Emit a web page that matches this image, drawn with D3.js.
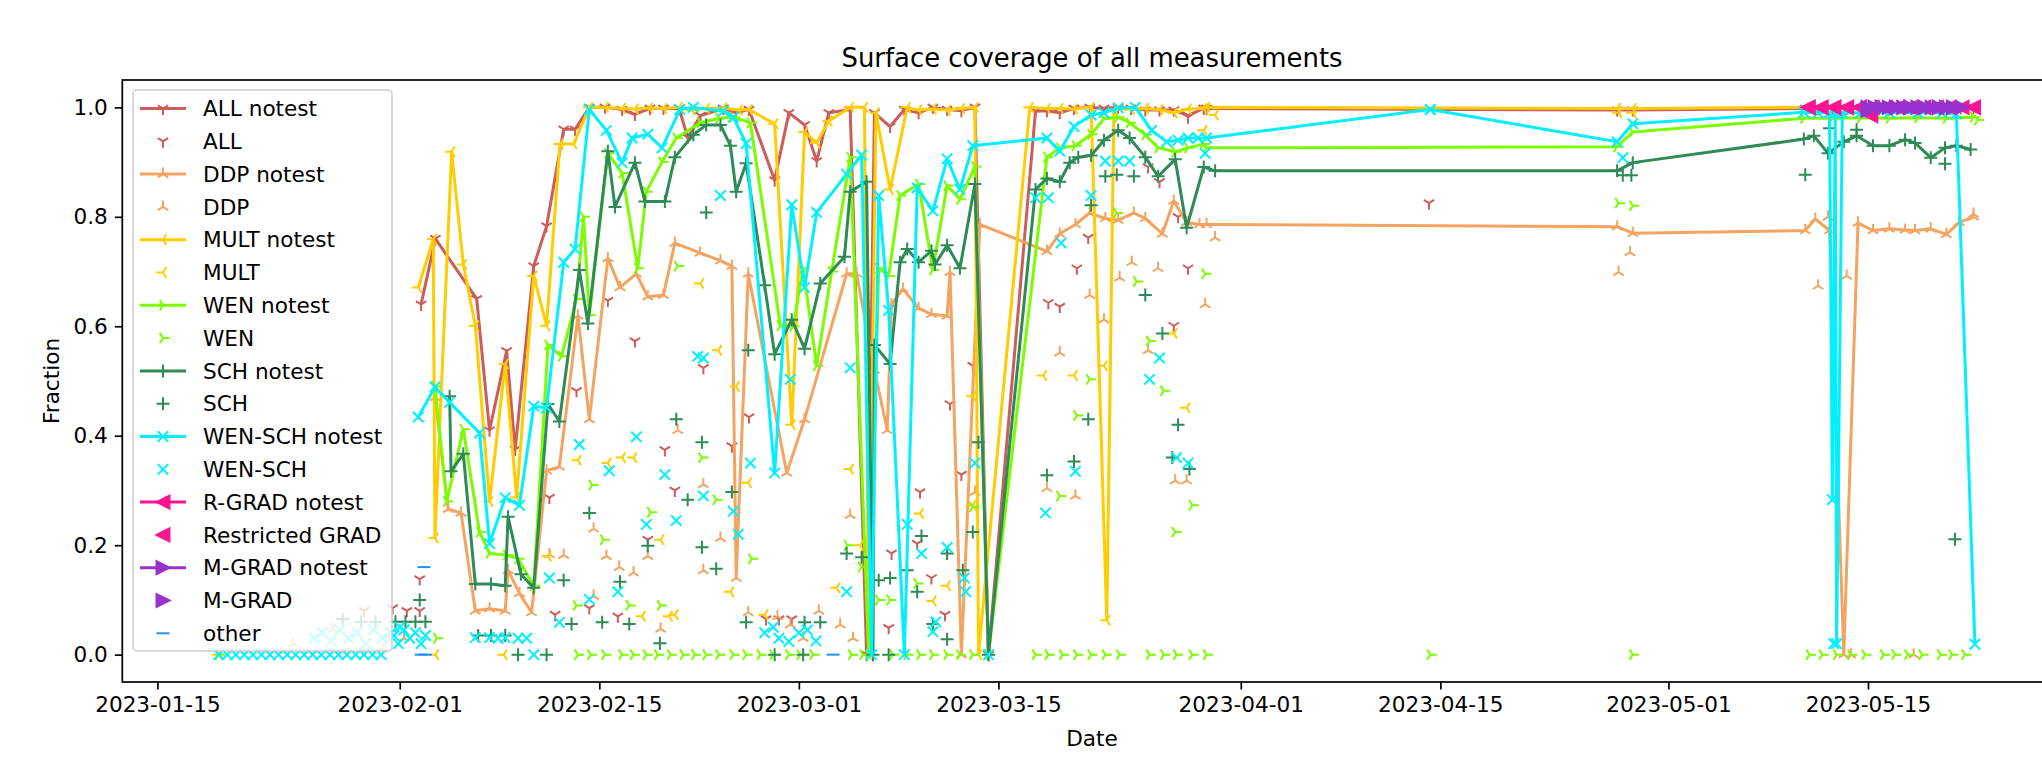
<!DOCTYPE html>
<html><head><meta charset="utf-8">
<script src="https://cdn.jsdelivr.net/npm/d3@7"></script>
<style>
body{margin:0;background:#fff}
text{font-family:"DejaVu Sans",sans-serif;fill:#000}
</style>
</head><body>
<svg id="chart" width="2042" height="764"></svg>
<script>
// ---------------- data (days since startDate, fraction) ----------------
const startDate = "2023-01-15";
const xTickLabels = ["2023-01-15","2023-02-01","2023-02-15","2023-03-01","2023-03-15","2023-04-01","2023-04-15","2023-05-01","2023-05-15"];
const yTickValues = [0.0,0.2,0.4,0.6,0.8,1.0];
const titleText = "Surface coverage of all measurements";
const xLabel = "Date";
const yLabel = "Fraction";

const allNotest = [[18.5,0.64],[19.5,0.76],[22.4,0.65],[23.3,0.41],[24.5,0.555],[25.1,0.375],[26.4,0.71],[27.3,0.783],[28.5,0.96],[29.3,0.96],[30.3,1.0],[31.4,1.0],[32.6,0.996],[33.5,0.987],[34.55,0.998],[35.5,0.998],[36.6,0.998],[37.2,0.945],[38.1,0.985],[39.7,0.998],[40.6,0.99],[41.5,0.996],[43.3,0.867],[44.3,0.99],[45.4,0.968],[46.25,0.902],[47.1,0.99],[48.6,0.996],[49.75,0.0],[50.3,0.99],[51.4,0.965],[52.4,0.996],[53.4,0.99],[54.4,1.0],[55.4,0.996],[56.4,0.994],[57.35,1.0],[58.3,0.0],[61.6,0.993],[62.4,0.994],[63.3,0.99],[64.3,0.998],[65.4,1.0],[66.4,0.998],[67.4,1.0],[68.3,0.998],[69.3,0.995],[70.3,0.995],[71.3,0.995],[72.3,0.985],[73.4,0.998],[73.6,0.998],[102.4,0.995],[103.5,0.995],[115.6,0.998],[116.5,0.998],[117.5,0.999],[118.5,0.998],[119.5,0.999],[120.5,0.999],[121.5,0.999],[122.5,0.999],[123.5,0.999],[124.5,0.999],[125.5,0.999],[126.5,0.999],[127.4,0.999]];
const allPts = [[14.5,0.08],[16.5,0.085],[17.5,0.08],[18.4,0.08],[18.4,0.138],[27.5,0.287],[27.9,0.073],[29.4,0.482],[30.3,0.085],[31.6,0.647],[32.3,0.07],[33.5,0.573],[34.4,0.21],[35.6,0.374],[36.3,0.3],[38.3,0.524],[40.3,0.381],[41.5,0.434],[42.7,0.065],[43.6,0.065],[44.5,0.065],[51.3,0.049],[51.5,0.185],[53.3,0.203],[53.5,0.297],[54.3,0.14],[55.25,0.073],[55.6,0.458],[56.4,0.329],[57.2,0.528],[62.5,0.643],[63.3,0.636],[64.5,0.706],[65.3,0.762],[69.5,0.891],[70.3,0.864],[71.3,0.601],[71.6,0.8],[72.3,0.706],[72.3,0.982],[89.2,0.825]];

const ddpNotest = [[19.47,0.47],[20.4,0.266],[21.3,0.259],[22.3,0.08],[23.3,0.084],[24.4,0.08],[24.6,0.154],[25.4,0.112],[26.25,0.077],[27.3,0.336],[28.2,0.343],[29.5,0.619],[30.3,0.43],[31.6,0.724],[32.45,0.671],[33.6,0.696],[34.4,0.654],[35.5,0.657],[36.3,0.752],[38.06,0.734],[39.5,0.72],[40.3,0.71],[40.6,0.14],[41.45,0.696],[44.15,0.332],[45.4,0.43],[48.35,0.696],[49.05,0.696],[50.3,0.52],[51.2,0.41],[51.5,0.64],[52.3,0.668],[53.4,0.633],[54.3,0.622],[55.4,0.619],[55.6,0.699],[56.4,0.0],[57.7,0.786],[62.4,0.737],[63.3,0.769],[64.4,0.786],[65.4,0.807],[66.5,0.797],[67.4,0.794],[68.5,0.807],[69.3,0.797],[70.5,0.769],[71.3,0.829],[72.2,0.79],[73.1,0.786],[73.6,0.786],[102.4,0.782],[103.5,0.77],[115.6,0.775],[116.3,0.796],[117.3,0.775],[118.3,0.0],[119.3,0.789],[120.35,0.775],[121.5,0.778],[122.6,0.776],[123.3,0.775],[124.4,0.778],[125.5,0.768],[126.4,0.79],[127.4,0.8]];
const ddpPts = [[9.5,0.02],[12.3,0.047],[15.8,0.012],[17.3,0.03],[27.5,0.183],[28.5,0.182],[30.6,0.23],[30.6,0.107],[31.5,0.18],[32.4,0.16],[33.4,0.15],[34.4,0.18],[35.3,0.047],[36.5,0.41],[38.3,0.311],[38.3,0.154],[39.5,0.213],[41.45,0.077],[43.5,0.07],[44.4,0.055],[45.3,0.03],[46.4,0.08],[47.9,0.055],[48.6,0.255],[48.8,0.03],[57.35,0.297],[62.4,0.304],[63.3,0.552],[64.4,0.29],[65.4,0.657],[66.4,0.612],[67.5,0.689],[68.35,0.717],[69.5,0.556],[70.2,0.706],[71.4,0.318],[72.2,0.318],[73.5,0.64],[74.2,0.762],[102.5,0.699],[103.3,0.735],[116.5,0.674],[117.2,0.8],[118.5,0.692],[118.8,0.0],[123.2,0.0],[127.4,0.805]];

const multNotest = [[18.3,0.671],[19.35,0.759],[19.47,0.213],[20.64,0.919],[21.46,0.713],[22.3,0.601],[23.3,0.28],[24.4,0.531],[25.2,0.287],[26.4,0.692],[27.3,0.601],[28.24,0.933],[29.2,0.933],[30.3,1.0],[31.4,1.0],[32.6,0.998],[33.5,0.997],[34.5,0.999],[35.5,0.998],[36.6,1.0],[37.5,0.995],[38.5,0.998],[39.7,0.999],[40.8,0.995],[41.5,0.996],[43.3,0.97],[44.5,0.42],[45.4,0.955],[46.25,0.935],[47.1,0.975],[48.6,1.0],[49.6,1.0],[49.9,0.0],[50.4,0.99],[51.4,0.85],[52.6,1.0],[53.4,0.995],[54.4,0.997],[55.4,0.995],[56.4,0.998],[57.35,1.0],[57.6,0.0],[61.2,1.0],[62.4,0.998],[63.3,0.998],[64.3,0.997],[65.5,1.0],[66.6,0.063],[67.1,0.996],[68.3,0.997],[69.3,0.998],[70.3,0.996],[71.3,0.99],[72.3,0.997],[73.4,0.998],[73.6,1.0],[102.4,0.998],[103.5,0.998],[115.6,1.0],[127.4,1.0]];
const multPts = [[4.3,0.0],[19.5,0.0],[24.3,0.0],[27.4,0.18],[29.5,0.355],[31.6,0.35],[32.6,0.36],[33.4,0.36],[34.0,0.07],[35.3,0.21],[35.9,0.07],[36.3,0.073],[38.1,0.678],[39.35,0.556],[40.2,0.115],[40.6,0.49],[41.45,0.314],[42.6,0.073],[47.65,0.122],[48.6,0.339],[49.3,0.2],[53.5,0.258],[54.4,0.098],[55.4,0.126],[57.2,0.273],[57.2,0.472],[62.15,0.51],[64.3,0.51],[66.4,0.528],[71.3,0.587],[72.2,0.451],[73.4,0.958],[74.2,0.986],[102.5,0.99],[103.5,0.99]];

const wenNotest = [[19.47,0.49],[20.3,0.28],[21.46,0.412],[22.6,0.224],[23.3,0.185],[24.5,0.182],[25.3,0.175],[26.4,0.126],[27.4,0.566],[28.35,0.545],[29.4,0.65],[29.9,0.8],[30.3,0.62],[31.6,0.916],[32.6,0.88],[33.7,0.706],[34.3,0.846],[35.4,0.9],[36.4,0.944],[38.1,0.972],[39.4,0.98],[40.4,0.982],[41.6,0.972],[43.7,0.601],[44.6,0.6],[45.3,0.706],[46.25,0.528],[47.3,0.7],[48.6,0.909],[49.9,0.0],[50.6,0.706],[51.3,0.692],[52.1,0.839],[53.4,0.86],[54.4,0.703],[55.4,0.857],[56.3,0.832],[57.35,0.892],[58.3,0.0],[62.4,0.909],[63.3,0.926],[64.4,0.93],[65.5,0.951],[66.4,0.979],[67.4,0.982],[68.2,0.972],[69.3,0.95],[70.2,0.926],[71.4,0.919],[72.3,0.926],[73.4,0.933],[73.6,0.926],[102.4,0.928],[103.5,0.955],[115.5,0.98],[117.5,0.98],[119.5,0.981],[121.5,0.98],[123.5,0.981],[125.5,0.98],[127.4,0.982]];
const wenPts = [[4.3,0.0],[19.6,0.03],[29.5,0.0],[30.4,0.0],[31.4,0.0],[32.6,0.0],[33.4,0.0],[34.3,0.0],[35.1,0.0],[36.0,0.0],[36.9,0.0],[37.7,0.0],[38.5,0.0],[39.4,0.0],[40.4,0.0],[41.3,0.0],[42.3,0.0],[43.2,0.0],[44.3,0.0],[45.1,0.0],[46.0,0.0],[48.7,0.0],[49.5,0.0],[51.6,0.0],[52.6,0.0],[53.5,0.0],[54.4,0.0],[55.4,0.0],[56.3,0.0],[57.2,0.0],[61.6,0.0],[62.5,0.0],[63.5,0.0],[64.5,0.0],[65.5,0.0],[66.5,0.0],[67.5,0.0],[69.6,0.0],[70.6,0.0],[71.5,0.0],[72.6,0.0],[73.6,0.0],[89.3,0.0],[103.5,0.0],[115.9,0.0],[116.8,0.0],[117.8,0.0],[118.8,0.0],[119.8,0.0],[121.1,0.0],[121.9,0.0],[122.8,0.0],[123.8,0.0],[125.1,0.0],[125.9,0.0],[126.8,0.0],[29.4,0.09],[30.5,0.31],[31.3,0.21],[33.1,0.09],[34.6,0.26],[35.3,0.09],[36.5,0.71],[38.2,0.36],[39.2,0.283],[41.7,0.175],[48.4,0.2],[49.4,0.16],[50.6,0.1],[51.4,0.1],[53.3,0.13],[57.2,0.27],[63.3,0.29],[64.5,0.437],[65.4,0.503],[67.3,0.807],[68.7,0.682],[69.6,0.573],[70.6,0.482],[71.4,0.224],[72.6,0.273],[73.5,0.696],[102.5,0.825],[103.5,0.82],[127.7,0.977]];

const schNotest = [[20.5,0.472],[20.6,0.335],[21.46,0.367],[22.3,0.129],[23.4,0.129],[24.4,0.126],[24.6,0.252],[25.5,0.147],[26.4,0.122],[27.4,0.458],[28.2,0.426],[29.6,0.703],[30.2,0.605],[31.6,0.92],[32.1,0.818],[33.5,0.899],[34.2,0.828],[35.6,0.828],[36.3,0.909],[37.6,0.95],[38.5,0.968],[39.5,0.968],[40.2,0.93],[40.6,0.846],[41.3,0.898],[42.6,0.675],[43.3,0.549],[44.5,0.612],[45.4,0.559],[46.5,0.678],[48.2,0.727],[48.6,0.846],[49.75,0.864],[50.2,0.0],[50.3,0.566],[51.4,0.531],[52.1,0.717],[52.6,0.741],[53.4,0.717],[54.3,0.738],[54.55,0.713],[55.4,0.748],[56.3,0.706],[57.35,0.86],[58.3,0.0],[61.6,0.85],[62.4,0.87],[63.3,0.864],[64.0,0.899],[64.6,0.909],[65.5,0.912],[66.4,0.94],[67.4,0.958],[68.2,0.944],[69.3,0.909],[70.2,0.874],[71.4,0.905],[72.2,0.78],[73.4,0.891],[74.2,0.884],[102.4,0.884],[103.5,0.899],[115.5,0.942],[116.2,0.948],[117.2,0.916],[118.3,0.937],[119.2,0.948],[120.35,0.93],[121.5,0.93],[122.6,0.941],[123.3,0.935],[124.4,0.908],[125.4,0.926],[126.2,0.93],[127.2,0.923]];
const schPts = [[13.0,0.065],[14.3,0.06],[15.3,0.06],[16.7,0.06],[17.4,0.06],[18.1,0.06],[18.8,0.06],[18.4,0.1],[22.5,0.035],[23.4,0.035],[24.4,0.035],[25.3,0.0],[27.3,0.0],[28.5,0.136],[29.05,0.056],[30.3,0.259],[31.2,0.059],[32.45,0.133],[33.1,0.056],[34.4,0.199],[35.25,0.021],[36.4,0.43],[37.2,0.283],[38.2,0.388],[38.2,0.196],[38.5,0.808],[39.2,0.157],[40.3,0.297],[41.45,0.556],[41.3,0.059],[43.3,0.0],[45.3,0.0],[45.4,0.059],[46.5,0.059],[48.35,0.185],[49.4,0.178],[50.6,0.136],[51.3,0.0],[51.4,0.14],[52.6,0.154],[53.3,0.115],[53.6,0.217],[54.4,0.056],[55.4,0.028],[55.4,0.185],[56.5,0.154],[57.2,0.224],[57.6,0.388],[62.4,0.328],[64.3,0.353],[65.3,0.43],[65.5,0.821],[66.5,0.874],[67.3,0.877],[68.5,0.874],[69.3,0.657],[70.5,0.587],[71.2,0.36],[71.6,0.42],[72.4,0.339],[102.8,0.876],[103.4,0.876],[115.6,0.877],[117.3,0.962],[119.2,0.959],[125.4,0.897],[126.1,0.211]];

const wenschNotest = [[18.3,0.434],[19.47,0.489],[20.5,0.461],[22.6,0.405],[23.3,0.203],[24.4,0.287],[25.4,0.273],[26.4,0.454],[27.3,0.451],[28.5,0.717],[29.3,0.741],[30.3,0.996],[31.5,0.958],[32.6,0.899],[33.3,0.944],[34.4,0.951],[35.4,0.926],[36.65,0.996],[37.6,1.0],[39.7,0.993],[40.4,0.982],[41.3,0.934],[43.3,0.332],[44.5,0.822],[45.4,0.671],[46.25,0.808],[48.35,0.878],[49.4,0.913],[50.1,0.0],[50.6,0.839],[51.3,0.629],[52.4,0.0],[53.3,0.853],[54.4,0.811],[55.4,0.906],[56.3,0.85],[57.2,0.93],[62.4,0.944],[63.3,0.92],[64.3,0.965],[65.5,0.986],[66.4,0.99],[67.4,0.999],[68.6,1.0],[69.75,0.958],[70.8,0.937],[71.6,0.94],[72.3,0.944],[73.0,0.944],[73.6,0.944],[89.3,0.996],[102.4,0.937],[103.5,0.97],[115.5,0.991],[116.5,0.99],[117.3,0.99],[117.5,0.283],[117.7,0.99],[117.8,0.02],[118.2,0.99],[119.5,0.99],[121.5,0.99],[123.5,0.99],[125.2,0.99],[126.2,0.988],[127.5,0.019]];
const wenschPts = [[4.3,0.0],[4.9,0.0],[5.5,0.0],[6.1,0.0],[6.7,0.0],[7.3,0.0],[7.9,0.0],[8.5,0.0],[9.1,0.0],[9.7,0.0],[10.3,0.0],[10.9,0.0],[11.5,0.0],[12.1,0.0],[12.7,0.0],[13.3,0.0],[13.9,0.0],[14.5,0.0],[15.1,0.0],[15.7,0.0],[11.0,0.03],[11.6,0.04],[12.2,0.025],[12.8,0.045],[13.4,0.03],[14.0,0.04],[14.6,0.02],[15.2,0.045],[15.8,0.03],[16.4,0.04],[16.6,0.035],[16.9,0.02],[17.0,0.05],[17.3,0.045],[17.7,0.03],[18.1,0.04],[18.5,0.02],[18.8,0.035],[22.3,0.031],[23.3,0.031],[23.9,0.03],[24.4,0.031],[25.3,0.03],[25.9,0.03],[26.4,0.0],[27.5,0.14],[28.2,0.059],[29.6,0.384],[30.3,0.101],[31.7,0.336],[32.3,0.115],[33.6,0.398],[34.3,0.238],[35.6,0.329],[36.4,0.245],[37.9,0.545],[38.3,0.542],[38.3,0.29],[39.5,0.839],[40.4,0.262],[40.75,0.22],[41.6,0.35],[42.6,0.04],[43.2,0.05],[43.6,0.03],[44.3,0.024],[44.4,0.503],[45.0,0.04],[45.6,0.045],[46.2,0.025],[48.35,0.115],[48.6,0.524],[52.6,0.238],[53.6,0.185],[54.4,0.042],[54.6,0.06],[55.4,0.196],[56.6,0.14],[56.7,0.115],[57.35,0.35],[58.3,0.0],[61.6,0.835],[62.3,0.259],[62.5,0.835],[63.4,0.752],[64.4,0.335],[65.5,0.839],[66.5,0.902],[67.4,0.902],[68.2,0.902],[69.6,0.503],[70.3,0.542],[71.5,0.36],[72.3,0.35],[73.5,0.916],[89.3,0.996],[102.8,0.908],[117.6,0.02]];

const rgradNotest = [[115.8,1.0],[116.7,1.0],[117.6,1.0],[118.5,1.0],[119.4,1.0],[120.3,1.0],[121.2,1.0],[122.1,1.0],[123.0,1.0],[123.9,1.0],[124.8,1.0],[125.7,1.0],[126.6,1.0],[127.4,1.0]];
const rgradPts = [[115.8,1.0],[116.7,1.0],[117.6,1.0],[118.5,1.0],[119.4,1.0],[120.2,0.985],[127.4,1.0]];
const mgradNotest = [[120.0,1.0],[120.5,1.0],[121.0,1.0],[121.5,1.0],[122.0,1.0],[122.5,1.0],[123.0,1.0],[123.5,1.0],[124.0,1.0],[124.5,1.0],[125.0,1.0],[125.5,1.0],[126.0,1.0],[126.6,1.0]];
const mgradPts = [[120.0,0.995],[121.0,1.0],[122.0,1.0],[123.0,1.0],[124.0,1.0],[125.0,1.0],[126.0,1.0]];
const otherPts = [[18.5,0.0],[18.8,0.0],[18.7,0.16],[47.4,0.0]];

// ---------------- styling ----------------
const C = {all:"#cd5c5c", ddp:"#f4a460", mult:"#ffcc00", wen:"#7cfc00", sch:"#2e8b57", wensch:"#00f0ff", rgrad:"#ff1493", mgrad:"#9932cc", other:"#1e90ff"};
const series = [
  {label:"ALL notest", data:allNotest, color:C.all, marker:"tri_down", line:true},
  {label:"ALL", data:allPts, color:C.all, marker:"tri_down", line:false},
  {label:"DDP notest", data:ddpNotest, color:C.ddp, marker:"tri_up", line:true},
  {label:"DDP", data:ddpPts, color:C.ddp, marker:"tri_up", line:false},
  {label:"MULT notest", data:multNotest, color:C.mult, marker:"tri_left", line:true},
  {label:"MULT", data:multPts, color:C.mult, marker:"tri_left", line:false},
  {label:"WEN notest", data:wenNotest, color:C.wen, marker:"tri_right", line:true},
  {label:"WEN", data:wenPts, color:C.wen, marker:"tri_right", line:false},
  {label:"SCH notest", data:schNotest, color:C.sch, marker:"plus", line:true},
  {label:"SCH", data:schPts, color:C.sch, marker:"plus", line:false},
  {label:"WEN-SCH notest", data:wenschNotest, color:C.wensch, marker:"x", line:true},
  {label:"WEN-SCH", data:wenschPts, color:C.wensch, marker:"x", line:false},
  {label:"R-GRAD notest", data:rgradNotest, color:C.rgrad, marker:"tri_fill_left", line:true},
  {label:"Restricted GRAD", data:rgradPts, color:C.rgrad, marker:"tri_fill_left", line:false},
  {label:"M-GRAD notest", data:mgradNotest, color:C.mgrad, marker:"tri_fill_right", line:true},
  {label:"M-GRAD", data:mgradPts, color:C.mgrad, marker:"tri_fill_right", line:false},
  {label:"other", data:otherPts, color:C.other, marker:"hline", line:false}
];

const MR = 6.5;
const markerPath = {
  tri_down: `M0,0V${MR}M0,0L${0.8*MR},${-0.5*MR}M0,0L${-0.8*MR},${-0.5*MR}`,
  tri_up: `M0,0V${-MR}M0,0L${0.8*MR},${0.5*MR}M0,0L${-0.8*MR},${0.5*MR}`,
  tri_left: `M0,0H${-MR}M0,0L${0.5*MR},${0.8*MR}M0,0L${0.5*MR},${-0.8*MR}`,
  tri_right: `M0,0H${MR}M0,0L${-0.5*MR},${0.8*MR}M0,0L${-0.5*MR},${-0.8*MR}`,
  plus: `M${-MR},0H${MR}M0,${-MR}V${MR}`,
  x: `M${-0.8*MR},${-0.8*MR}L${0.8*MR},${0.8*MR}M${-0.8*MR},${0.8*MR}L${0.8*MR},${-0.8*MR}`,
  tri_fill_left: `M${-MR},0L${MR},${-MR}L${MR},${MR}Z`,
  tri_fill_right: `M${MR},0L${-MR},${-MR}L${-MR},${MR}Z`,
  hline: `M${-MR},0H${MR}`
};
const isFilled = m => m.startsWith("tri_fill");

// ---------------- layout ----------------
const svg = d3.select("#chart");
const axL = 122.3, axR = 2062, axT = 80, axB = 682;
const parseDay = d3.utcParse("%Y-%m-%d");
const t0 = parseDay(startDate);
const toDate = d => new Date(t0.getTime() + d * 864e5);
const xs = d3.scaleUtc().domain([parseDay("2023-01-15"), parseDay("2023-05-15")]).range([157.4, 1868]);
const ys = d3.scaleLinear().domain([-0.05, 1.05]).range([axB, axT]);

svg.append("defs").append("clipPath").attr("id","clip")
  .append("rect").attr("x",axL).attr("y",axT).attr("width",axR-axL).attr("height",axB-axT);

const plot = svg.append("g").attr("clip-path","url(#clip)");
const lineGen = d3.line().x(d => xs(toDate(d[0]))).y(d => ys(d[1]));

series.forEach(s => {
  const g = plot.append("g");
  if (s.line) {
    g.append("path").attr("d", lineGen(s.data)).attr("fill","none")
      .attr("stroke", s.color).attr("stroke-width", 3).attr("stroke-linejoin","round");
  }
  g.selectAll("path.m").data(s.data).enter().append("path").attr("class","m")
    .attr("transform", d => `translate(${xs(toDate(d[0]))},${ys(d[1])})`)
    .attr("d", markerPath[s.marker])
    .attr("fill", isFilled(s.marker) ? s.color : "none")
    .attr("stroke", s.color).attr("stroke-width", 2);
});

// axes
const fs = 21.6;
const xAxis = d3.axisBottom(xs).tickValues(xTickLabels.map(parseDay))
  .tickFormat(d3.utcFormat("%Y-%m-%d")).tickSize(7.5).tickPadding(7);
const gx = svg.append("g").attr("transform", `translate(0,${axB})`).call(xAxis);
const yAxis = d3.axisLeft(ys).tickValues(yTickValues).tickFormat(d3.format(".1f")).tickSize(7.5).tickPadding(7);
const gy = svg.append("g").attr("transform", `translate(${axL},0)`).call(yAxis);
[gx, gy].forEach(g => {
  g.select(".domain").remove();
  g.selectAll(".tick line").attr("stroke","#000").attr("stroke-width",1.7);
  g.selectAll(".tick text").attr("font-size", fs).attr("fill","#000").style("font-family","DejaVu Sans");
});

// frame
svg.append("rect").attr("x",axL).attr("y",axT).attr("width",axR-axL).attr("height",axB-axT)
  .attr("fill","none").attr("stroke","#000").attr("stroke-width",1.7);

// labels
svg.append("text").attr("x",1092).attr("y",67).attr("text-anchor","middle").attr("font-size",25.9).text(titleText);
svg.append("text").attr("x",1092).attr("y",746).attr("text-anchor","middle").attr("font-size",fs).text(xLabel);
svg.append("text").attr("transform","translate(59,381) rotate(-90)").attr("text-anchor","middle").attr("font-size",fs).text(yLabel);

// legend
const lg = svg.append("g");
lg.append("rect").attr("x",133).attr("y",90).attr("width",259).attr("height",561).attr("rx",4)
  .attr("fill","#fff").attr("fill-opacity",0.8).attr("stroke","#cccccc").attr("stroke-width",1.5);
series.forEach((s, i) => {
  const cy = 108.5 + 32.8 * i;
  if (s.line) lg.append("line").attr("x1",140).attr("x2",186).attr("y1",cy).attr("y2",cy)
    .attr("stroke", s.color).attr("stroke-width",3);
  lg.append("path").attr("transform",`translate(163,${cy})`).attr("d", markerPath[s.marker])
    .attr("fill", isFilled(s.marker) ? s.color : "none").attr("stroke", s.color).attr("stroke-width",2);
  lg.append("text").attr("x",203).attr("y",cy).attr("dy","0.36em").attr("font-size",fs).text(s.label);
});
</script>
</body></html>
